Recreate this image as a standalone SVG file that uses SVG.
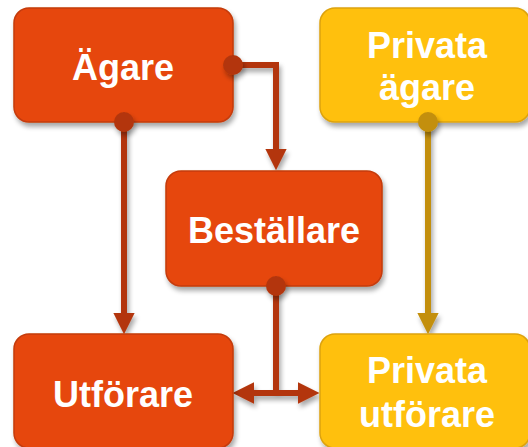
<svg xmlns="http://www.w3.org/2000/svg" width="528" height="447" viewBox="0 0 528 447">
<defs>
  <filter id="sh" x="-20%" y="-20%" width="140%" height="150%">
    <feGaussianBlur in="SourceAlpha" stdDeviation="2.5"/>
    <feOffset dx="2" dy="4" result="b"/>
    <feComponentTransfer><feFuncA type="linear" slope="0.35"/></feComponentTransfer>
    <feMerge><feMergeNode/><feMergeNode in="SourceGraphic"/></feMerge>
  </filter>
  <marker id="ar" viewBox="0 0 10 10" refX="2" refY="5" markerWidth="3.6" markerHeight="3.8" orient="auto-start-reverse" markerUnits="strokeWidth">
    <path d="M0,0 L10,5 L0,10 Z" fill="#B3360A"/>
  </marker>
  <marker id="ag" viewBox="0 0 10 10" refX="2" refY="5" markerWidth="3.6" markerHeight="3.8" orient="auto" markerUnits="strokeWidth">
    <path d="M0,0 L10,5 L0,10 Z" fill="#C38F0A"/>
  </marker>
</defs>
<style>
  .o { fill: #E6470B; stroke: #C43A08; stroke-width: 1.5; }
  .g { fill: #FFC00F; stroke: #DDA20A; stroke-width: 1.5; }
  .t { font-family: "Liberation Sans", Arial, sans-serif; font-weight: bold; font-size: 36px; fill: #FFFFFF; text-anchor: middle; }
  .cr { fill: none; stroke: #B3360A; stroke-width: 6; }
  .cg { fill: none; stroke: #C38F0A; stroke-width: 6; }
</style>
<g id="connectors" filter="url(#sh)">
  <path class="cr" d="M233,65 H276 V153" marker-end="url(#ar)"/>
  <path class="cr" d="M124,122 V317" marker-end="url(#ar)"/>
  <path class="cr" d="M276,286 V393"/>
  <path class="cr" d="M250,393 H302" marker-start="url(#ar)" marker-end="url(#ar)"/>
  <path class="cg" d="M428,122 V317" marker-end="url(#ag)"/>
</g>
<g id="agare">
  <rect class="o" x="14" y="8" width="219" height="114" rx="15" filter="url(#sh)"/>
  <text class="t" x="123" y="80">Ägare</text>
</g>
<g id="bestallare">
  <rect class="o" x="166" y="171" width="216" height="115" rx="15" filter="url(#sh)"/>
  <text class="t" x="274" y="243">Beställare</text>
</g>
<g id="utforare">
  <rect class="o" x="14" y="334" width="219" height="114" rx="15" filter="url(#sh)"/>
  <text class="t" x="123" y="407">Utförare</text>
</g>
<g id="privata-agare">
  <rect class="g" x="320" y="8" width="210" height="114" rx="15" filter="url(#sh)"/>
  <text class="t" x="427" y="58">Privata</text>
  <text class="t" x="427" y="100">ägare</text>
</g>
<g id="privata-utforare">
  <rect class="g" x="320" y="334" width="210" height="114" rx="15" filter="url(#sh)"/>
  <text class="t" x="427" y="383">Privata</text>
  <text class="t" x="427" y="427">utförare</text>
</g>
<g id="dots" filter="url(#sh)">
  <circle cx="233" cy="65" r="10" fill="#B3360A"/>
  <circle cx="124" cy="122" r="10" fill="#B3360A"/>
  <circle cx="276" cy="286" r="10" fill="#B3360A"/>
  <circle cx="428" cy="122" r="10" fill="#C38F0A"/>
</g>
</svg>
